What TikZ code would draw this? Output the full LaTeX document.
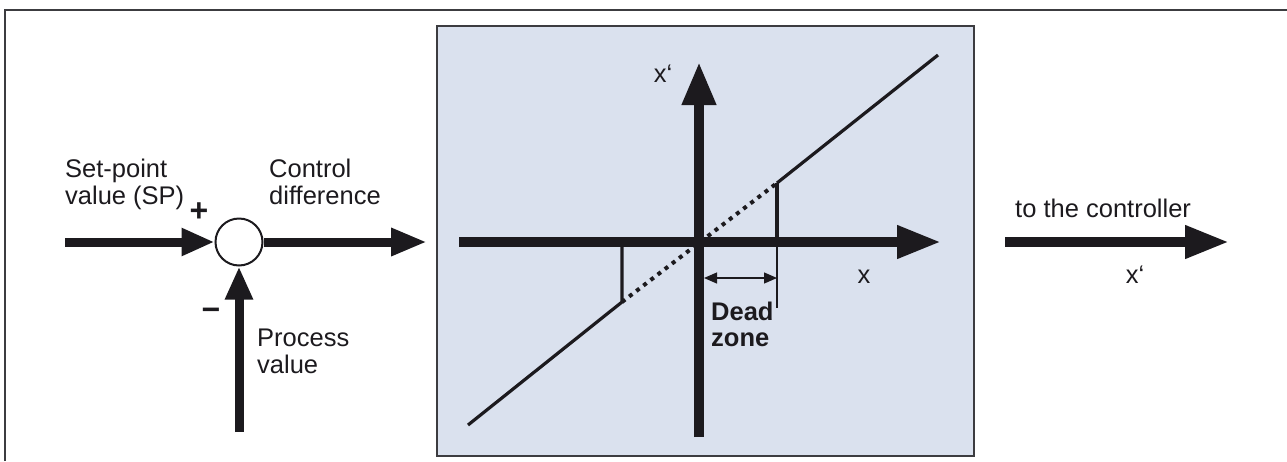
\documentclass[tikz,border=0pt]{standalone}
\usepackage{fontspec}
\setmainfont{Liberation Sans}
\usetikzlibrary{arrows.meta}
\definecolor{ink}{RGB}{28,26,30}
\definecolor{panel}{RGB}{218,225,238}
\definecolor{framec}{RGB}{60,60,64}
\tikzset{
  lbl/.style={inner sep=0pt, text=ink, font=\fontsize{25.5}{27}\selectfont, align=left},
  bigarrow/.style={draw=ink, line width=10pt, -{Triangle[length=44pt,width=31pt]}},
  smallarrow/.style={draw=ink, line width=9pt, -{Triangle[length=33pt,width=26pt]}},
  curve/.style={draw=ink, line width=3.2pt},
  sign/.style={text=ink, inner sep=0pt, font=\fontsize{32}{32}\selectfont\bfseries},
}
\begin{document}
\begin{tikzpicture}[x=1pt,y=-1pt]
\useasboundingbox (0,0) rectangle (1287,461);
% outer frame (clipped)
\draw[framec, line width=1.5pt] (5,461) -- (5,10) -- (1287,10);
% panel
\draw[framec, line width=1.5pt, fill=panel] (437,26) rectangle (974,456);

% summing junction
\node[circle, draw=ink, line width=2pt, fill=white, minimum size=47pt, inner sep=0pt] (sum) at (239,242) {};
\coordinate (spin) at (65,242);
\coordinate (cdout) at (427,242);
\coordinate (pvin) at (239,432);
\draw[smallarrow] (spin) -- (sum.west);
\draw[smallarrow, -{Triangle[length=36pt,width=26pt]}] (sum.east) -- (cdout);
\draw[smallarrow] (pvin) -- (sum.south);

\node[lbl, anchor=base west] (sp) at (65,204) {Set-point\\value (SP)};
\node[lbl, anchor=base west] (cd) at (269,204) {Control\\difference};
\node[lbl, anchor=base west] (pv) at (257,373) {Process\\value};
\node[sign] (plus) at (199,212) {+};
\node[sign] (minus) at (211,314) {\char"2212};

% characteristic curve
\coordinate (xl) at (459,242);
\coordinate (xr) at (941,242);
\coordinate (yb) at (699,437);
\coordinate (yt) at (699,62);
\coordinate (a) at (468,425);
\coordinate (b) at (622,302);
\coordinate (bb) at (622,247);
\coordinate (c) at (777,183);
\coordinate (cc) at (777,242);
\coordinate (cd2) at (777,308);
\coordinate (d) at (938,55);
\draw[curve] (a) -- (b) -- (bb);
\draw[draw=ink, line width=4pt, dash pattern=on 4pt off 5pt] (b) -- (c);
\draw[curve] (c) -- (d);
\draw[curve] (c) -- (cc);
\draw[bigarrow] (xl) -- (xr);
\draw[bigarrow, -{Triangle[length=43pt,width=32pt]}] (yb) -- (yt);
\draw[ink, line width=1.2pt] (cc) -- (cd2);
\coordinate (dz1) at (704,278);
\coordinate (dz2) at (777,278);
\draw[ink, line width=1.2pt, {Triangle[length=13pt,width=11pt]}-{Triangle[length=13pt,width=11pt]}] (dz1) -- (dz2);

\node[lbl] (xp) at (663,74) {x‘};
\node[lbl] (xlab) at (864,277) {x};
\node[lbl, anchor=base west, font=\fontsize{25.5}{26}\selectfont\bfseries] (dead) at (711,346) {Dead\\zone};

% to the controller
\coordinate (tcs) at (1005,242);
\coordinate (tce) at (1229,242);
\draw[bigarrow] (tcs) -- (tce);
\node[lbl, anchor=base west] (tc) at (1015,217) {to the controller};
\node[lbl] (xo) at (1135,275) {x‘};
\end{tikzpicture}
\end{document}
